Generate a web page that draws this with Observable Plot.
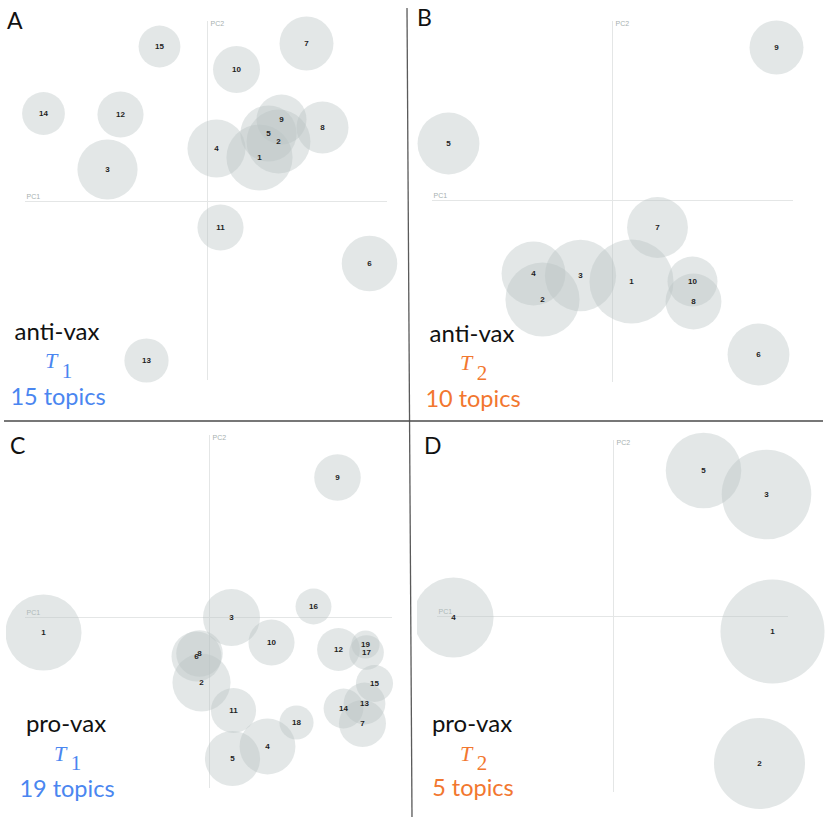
<!DOCTYPE html>
<html>
<head>
<meta charset="utf-8">
<script src="https://cdn.jsdelivr.net/npm/d3@7"></script>
<script src="https://cdn.jsdelivr.net/npm/@observablehq/plot@0.6"></script>
<style>
  html, body { margin: 0; padding: 0; background: #fff; }
  #wrap { position: relative; width: 829px; height: 826px; overflow: hidden; background: #fff; }
  #wrap > svg.panel { position: absolute; }
  #overlay { position: absolute; left: 0; top: 0; pointer-events: none; }
</style>
</head>
<body>
<div id="wrap"></div>
<script>
// ---------- data: intertopic distance maps (PC1, PC2, topic share %) ----------
const panelA_topics = d3.range(1, 16);
const panelA_pc1 = [0.52, 0.71, -1.00, 0.09, 0.61, 1.62, 0.99, 1.15, 0.74, 0.29, 0.13, -0.87, -0.61, -1.64, -0.48];
const panelA_pc2 = [0.44, 0.60, 0.32, 0.53, 0.68, -0.62, 1.58, 0.74, 0.82, 1.32, -0.26, 0.87, -1.59, 0.88, 1.55];
const panelA_share = [10.5, 9.8, 8.7, 8.1, 7.6, 7.4, 7.0, 6.5, 6.0, 5.3, 5.1, 5.1, 4.7, 4.4, 4.2];

const panelB_topics = d3.range(1, 11);
const panelB_pc1 = [0.19, -0.70, -0.32, -0.79, -1.64, 1.46, 0.45, 0.81, 1.64, 0.80];
const panelB_pc2 = [-0.81, -0.99, -0.75, -0.73, 0.57, -1.54, -0.27, -1.01, 1.53, -0.81];
const panelB_share = [17.0, 13.2, 12.2, 9.8, 9.2, 9.2, 8.9, 7.5, 7.0, 6.0];

const panelC_topics = d3.range(1, 20);
const panelC_pc1 = [-1.66, -0.08, 0.22, 0.58, 0.23, -0.13, 1.53, -0.10, 1.28, 0.62, 0.24, 1.29, 1.55, 1.34, 1.65, 1.04, 1.57, 0.87, 1.56];
const panelC_pc2 = [-0.15, -0.65, 0.00, -1.29, -1.41, -0.39, -1.06, -0.36, 1.40, -0.25, -0.93, -0.32, -0.86, -0.91, -0.66, 0.11, -0.35, -1.05, -0.27];
const panelC_share = [13.9, 8.1, 7.8, 7.5, 7.3, 6.0, 5.3, 5.2, 5.2, 5.1, 4.9, 4.4, 4.2, 3.8, 3.3, 3.1, 2.9, 2.8, 1.9];

const panelD_topics = d3.range(1, 6);
const panelD_pc1 = [1.59, 1.46, 1.53, -1.60, 0.90];
const panelD_pc2 = [-0.15, -1.47, 1.22, -0.01, 1.46];
const panelD_share = [26.0, 19.9, 19.3, 15.4, 13.7];

const panelLetters = ["A", "B", "C", "D"];
const panelGroups = ["anti-vax", "anti-vax", "pro-vax", "pro-vax"];
const panelPeriods = ["1", "2", "1", "2"];
const panelTopicCounts = ["15 topics", "10 topics", "19 topics", "5 topics"];

// ---------- layout ----------
const panels = [
  {topics: panelA_topics, pc1: panelA_pc1, pc2: panelA_pc2, share: panelA_share,
   left: 0, top: 0, w: 407, h: 419, xd: [-2.07, 2.00], yd: [-2.18, 2.01], ax: [-1.82, 1.80], ay: [-1.79, 1.80]},
  {topics: panelB_topics, pc1: panelB_pc1, pc2: panelB_pc2, share: panelB_share,
   left: 412, top: 0, w: 417, h: 419, xd: [-2.00, 2.17], yd: [-2.19, 2.00], ax: [-1.80, 1.81], ay: [-1.82, 1.79]},
  {topics: panelC_topics, pc1: panelC_pc1, pc2: panelC_pc2, share: panelC_share,
   left: 6, top: 423, w: 401, h: 403, xd: [-2.03, 1.98], yd: [-2.09, 1.94], ax: [-1.84, 1.83], ay: [-1.71, 1.82]},
  {topics: panelD_topics, pc1: panelD_pc1, pc2: panelD_pc2, share: panelD_share,
   left: 417, top: 423, w: 412, h: 403, xd: [-1.96, 2.16], yd: [-2.10, 1.93], ax: [-1.76, 1.75], ay: [-1.76, 1.76]}
];

const wrap = document.getElementById("wrap");

panels.forEach(p => {
  const rows = p.topics.map((t, i) => ({topic: String(t), pc1: p.pc1[i], pc2: p.pc2[i], share: p.share[i]}));
  const chart = Plot.plot({
    width: p.w,
    height: p.h,
    margin: 0,
    style: {fontFamily: "'Liberation Sans', Arial, sans-serif", background: "transparent", overflow: "visible"},
    x: {domain: p.xd, axis: null},
    y: {domain: p.yd, axis: null},
    r: {type: "sqrt", domain: [0, 100], range: [0, 102]},
    marks: [
      Plot.ruleY([0], {x1: p.ax[0], x2: p.ax[1], stroke: "#e4e6e6", strokeWidth: 1}),
      Plot.ruleX([0], {y1: p.ay[0], y2: p.ay[1], stroke: "#e4e6e6", strokeWidth: 1}),
      Plot.text(["PC1"], {x: p.ax[0], y: 0, text: d => d, textAnchor: "start", lineAnchor: "bottom", dy: -3, dx: 1, fontSize: 7, fill: "#a7b0b0"}),
      Plot.text(["PC2"], {x: 0, y: p.ay[1], text: d => d, textAnchor: "start", lineAnchor: "top", dx: 3, dy: 0, fontSize: 7, fill: "#a7b0b0"}),
      Plot.dot(rows, {x: "pc1", y: "pc2", r: "share", fill: "#b8c3c3", fillOpacity: 0.4, stroke: "none", clip: true}),
      Plot.text(rows, {x: "pc1", y: "pc2", text: "topic", fontSize: 8, fontWeight: "bold", fill: "#1e1e1e"})
    ]
  });
  chart.classList.add("panel");
  chart.style.left = p.left + "px";
  chart.style.top = p.top + "px";
  wrap.appendChild(chart);
});

// ---------- overlay: dividers and panel annotations ----------
const ov = d3.select(wrap).append("svg").attr("id", "overlay").attr("width", 829).attr("height", 826);
ov.append("line").attr("x1", 407).attr("y1", 8).attr("x2", 412).attr("y2", 817).attr("stroke", "#5a5a5a").attr("stroke-width", 1.3);
ov.append("line").attr("x1", 4).attr("y1", 421).attr("x2", 823).attr("y2", 421).attr("stroke", "#4a4a4a").attr("stroke-width", 1.3);

const annot = [
  {lx: 7, ly: 29, cx: 57, b1: 340, bT: 368, bS: 378, b3: 405, color: "#4a86f0"},
  {lx: 417, ly: 26, cx: 472, b1: 342, bT: 370, bS: 380, b3: 407, color: "#f2772f"},
  {lx: 10, ly: 454, cx: 66, b1: 732, bT: 761, bS: 770, b3: 797, color: "#4a86f0"},
  {lx: 424, ly: 454, cx: 472, b1: 732, bT: 761, bS: 770, b3: 796, color: "#f2772f"}
];
annot.forEach((a, i) => {
  const g = ov.append("g");
  g.append("text").attr("x", a.lx).attr("y", a.ly).attr("font-family", "Lato, 'Open Sans', sans-serif")
    .attr("font-size", 23).attr("fill", "#111").text(panelLetters[i]);
  g.append("text").attr("x", a.cx).attr("y", a.b1).attr("text-anchor", "middle")
    .attr("font-family", "Lato, 'Open Sans', sans-serif").attr("font-size", 24).attr("fill", "#111").text(panelGroups[i]);
  g.append("text").attr("x", a.cx - 6).attr("y", a.bT).attr("text-anchor", "middle")
    .attr("font-family", "'Liberation Serif', 'DejaVu Serif', serif").attr("font-style", "italic")
    .attr("font-size", 22).attr("fill", a.color).text("T");
  g.append("text").attr("x", a.cx + 10).attr("y", a.bS).attr("text-anchor", "middle")
    .attr("font-family", "'Liberation Serif', 'DejaVu Serif', serif")
    .attr("font-size", 21).attr("fill", a.color).text(panelPeriods[i]);
  g.append("text").attr("x", a.cx + 1).attr("y", a.b3).attr("text-anchor", "middle")
    .attr("font-family", "Lato, 'Open Sans', sans-serif").attr("font-size", 23.5).attr("fill", a.color).text(panelTopicCounts[i]);
});
</script>
</body>
</html>
